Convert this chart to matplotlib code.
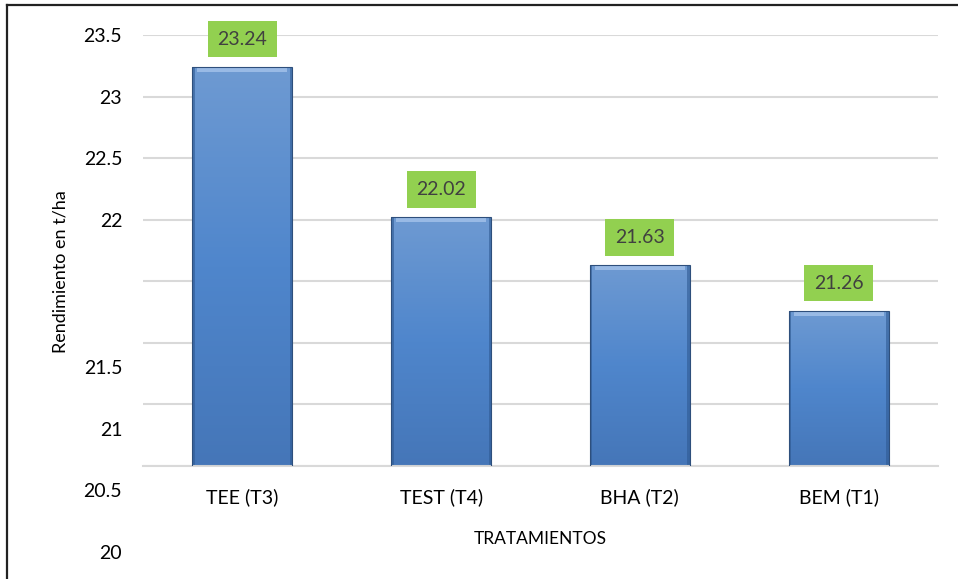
import matplotlib
matplotlib.use('Agg')
import matplotlib.pyplot as plt
import numpy as np
from matplotlib.transforms import ScaledTranslation
from matplotlib.lines import Line2D
from matplotlib.colors import LinearSegmentedColormap

categorias = ['TEE (T3)', 'TEST (T4)', 'BHA (T2)', 'BEM (T1)']
rendimiento = [23.24, 22.02, 21.63, 21.26]
ticks = [20, 20.5, 21, 21.5, 22, 22.5, 23, 23.5]
tick_labels = ['20', '20.5', '21', '21.5', '22', '22.5', '23', '23.5']

plt.rcParams['font.family'] = ['Lato', 'DejaVu Sans']

fig = plt.figure(figsize=(9.58, 5.79), dpi=100)
ax = fig.add_axes([0.1493, 0.1952, 0.8298, 0.7444])

ymin, ymax = 20, 23.5
x = np.arange(len(categorias))
alturas = [v - ymin for v in rendimiento]
barras = ax.bar(x, alturas, bottom=ymin, width=0.503, color='none',
                edgecolor='#2e4f7c', linewidth=0.8, zorder=3)

# degradado de las barras
cmap = LinearSegmentedColormap.from_list('azul', ['#4576b8', '#4f86cc', '#6e9ad2'])
grad = np.linspace(0, 1, 256).reshape(-1, 1)
for b in barras:
    x0, y0 = b.get_x(), b.get_y()
    w, h = b.get_width(), b.get_height()
    im = ax.imshow(grad, cmap=cmap, origin='lower', aspect='auto',
                   extent=(x0, x0 + w, y0, y0 + h), zorder=2)
    im.set_clip_path(b)
    # brillo superior
    ax.fill_between([x0 + 0.025, x0 + w - 0.025], y0 + h - 0.04, y0 + h,
                    color='#a9c6ec', alpha=0.75, zorder=2.5, linewidth=0)
    # sombra lateral
    ax.fill_between([x0, x0 + 0.012], y0, y0 + h, color='#2f5a93',
                    alpha=0.6, zorder=2.5, linewidth=0)
    ax.fill_between([x0 + w - 0.012, x0 + w], y0, y0 + h, color='#2f5a93',
                    alpha=0.6, zorder=2.5, linewidth=0)

for xi, v in zip(x, rendimiento):
    ax.annotate(f'{v:.2f}', xy=(xi, v), xytext=(0, 20), textcoords='offset points',
                ha='center', va='center', fontsize=14, color='#404040',
                bbox=dict(boxstyle='square,pad=0.5', facecolor='#92d050',
                          edgecolor='none'))

ax.set_xlim(-0.5, len(categorias) - 0.5)
ax.set_ylim(ymin, ymax)
ax.set_yticks(ticks)
ax.set_yticklabels(tick_labels)
ax.set_xticks(x)
ax.set_xticklabels(categorias)
ax.tick_params(axis='both', length=0, labelsize=14, colors='#000000')
ax.tick_params(axis='y', pad=15)
ax.tick_params(axis='x', pad=16)

# etiquetas inferiores desplazadas, como en el original
for lab, t in zip(ax.get_yticklabels(), ticks):
    if t <= 21.5:
        lab.set_transform(lab.get_transform() +
                          ScaledTranslation(0, -0.86, fig.dpi_scale_trans))

ax.grid(axis='y', color='#d9d9d9', linewidth=1.5, zorder=0)
ax.set_axisbelow(True)
for s in ['top', 'right', 'left']:
    ax.spines[s].set_visible(False)
ax.spines['bottom'].set_color('#d9d9d9')
ax.spines['bottom'].set_linewidth(1.5)

ax.set_xlabel('TRATAMIENTOS', fontsize=12.5)
ax.xaxis.set_label_coords(0.5, -0.15)
ax.set_ylabel('Rendimiento en t/ha', fontsize=13)
ax.yaxis.set_label_coords(-0.094, 0.45)

# marco de la figura
fig.add_artist(Line2D([7 / 958, 1], [1 - 5 / 579, 1 - 5 / 579], color='#222222',
                      linewidth=1.6, transform=fig.transFigure))
fig.add_artist(Line2D([7 / 958, 7 / 958], [0, 1 - 5 / 579], color='#222222',
                      linewidth=1.6, transform=fig.transFigure))

fig.savefig('out.png', dpi=100)
